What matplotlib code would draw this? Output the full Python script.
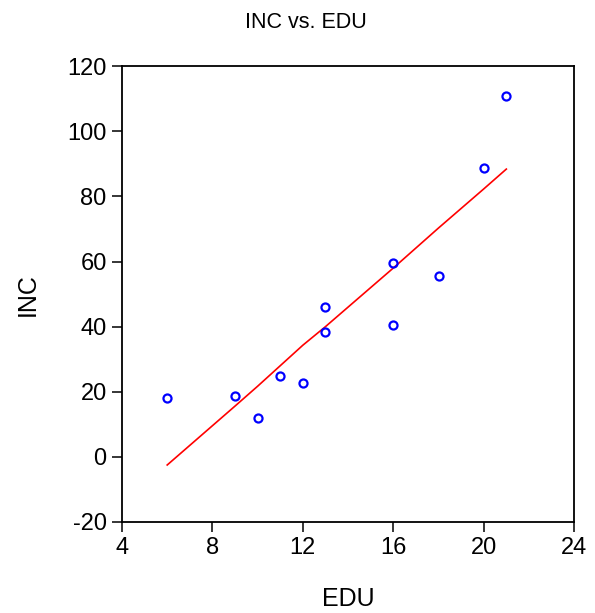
import numpy as np
import matplotlib.pyplot as plt

plt.rcParams['font.family'] = ['Liberation Sans', 'DejaVu Sans']
plt.rcParams['axes.unicode_minus'] = False

# observed data
edu = [6, 9, 10, 11, 12, 13, 13, 16, 16, 18, 20, 21]
inc = [18, 18.6, 12, 24.7, 22.6, 46, 38.5, 59.7, 40.5, 55.6, 88.8, 110.7]

# fitted line
fit_x = [6, 9, 10, 11, 12, 13, 16, 18, 20, 21]
fit_y = [-2.5, 15.6, 21.7, 28.0, 34.3, 40.0, 58.0, 70.3, 82.3, 88.4]

xticks = [4, 8, 12, 16, 20, 24]
yticks = [-20, 0, 20, 40, 60, 80, 100, 120]

fig = plt.figure(figsize=(5.95, 6.13), dpi=100)
ax = fig.add_axes([0.205, 0.1485, 0.76, 0.7435])

ax.plot(fit_x, fit_y, color='red', lw=1.2)
ax.plot(edu, inc, 'o', mfc='none', mec='blue', ms=5.8, mew=1.6)

ax.set_xlim(4, 24)
ax.set_ylim(-20, 120)
ax.set_xticks(xticks)
ax.set_yticks(yticks)
ax.tick_params(direction='out', length=7, width=1.1, labelsize=17, pad=4,
               top=False, right=False)
for s in ax.spines.values():
    s.set_linewidth(1.3)

ax.set_xlabel('EDU', fontsize=18, labelpad=20)
ax.set_ylabel('INC', fontsize=18, labelpad=20)
fig.text(306 / 595, 1 - 22 / 613, 'INC vs. EDU', fontsize=15.5,
         ha='center', va='center')

plt.savefig('out.png', dpi=100)
